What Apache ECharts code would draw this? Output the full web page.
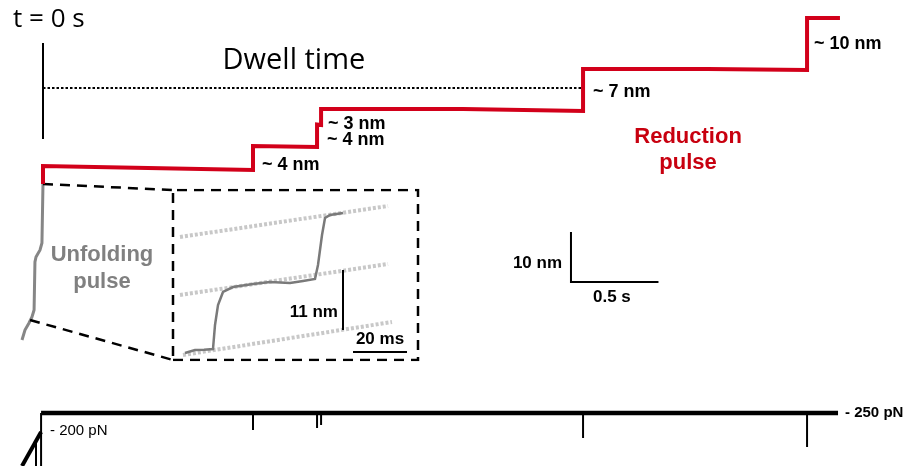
<!DOCTYPE html>
<html><head><meta charset="utf-8">
<script src="https://cdn.jsdelivr.net/npm/echarts@6/dist/echarts.min.js"></script>
<style>html,body{margin:0;padding:0;background:#fff}#c{width:911px;height:466px}</style>
</head><body><div id="c"></div>
<script>
// ---- Main extension trace: time (s) vs extension (nm) ----
const redTrace = [[0,-3.4],[0,0.2],[0.6,-0.2],[1.2,-0.6],[1.2,4.2],[1.566,4.0],[1.566,8.5],[1.589,8.4],[1.589,11.6],[2.4,11.6],[3.086,11.2],[3.086,19.6],[3.8,19.6],[4.366,19.4],[4.366,29.8],[4.554,29.8]];
const grayTrace = [[0,-3.2],[-0.006,-15.2],[-0.017,-16.6],[-0.04,-18],[-0.046,-19],[-0.051,-28.6],[-0.063,-30],[-0.08,-31.2],[-0.103,-32.6],[-0.12,-34.6]];
const dwellMarker = [[0,24.8],[0,5.6]];
const dwellLine = [[0,15.8],[3.086,15.8]];
const zoomTop = [[0,-3.4],[0.743,-4.6]];
const zoomBottom = [[-0.074,-30.6],[0.743,-38.6]];
const scaleBar = [[3.017,-13],[3.017,-23],[3.517,-23]];
// annotation anchors [t, nm, text]
const stepLabels = [[4.406,24.6,'~ 10 nm'],[3.143,15.0,'~ 7 nm'],[1.629,8.6,'~ 3 nm'],[1.623,5.4,'~ 4 nm'],[1.251,0.4,'~ 4 nm']];
const redLabel = [[3.686,3.4,'Reduction\npulse']];
const grayLabel = [[0.337,-20.3,'Unfolding\npulse']];
const titleLabels = [[-0.171,29.4,'t = 0 s']];
const dwellLabel = [[1.434,21.2,'Dwell time']];
const scaleLabelY = [[2.966,-19.2,'10 nm']];
const scaleLabelX = [[3.251,-26,'0.5 s']];

// ---- Force trace: time (s) vs force (pN) ----
const forceMain = [[-0.011,250],[4.543,250]];
const forceRampDiag = [[-0.12,102.8],[-0.011,197.2]];
const forceRampV1 = [[-0.04,175],[-0.04,102.8]];
const forceRampV2 = [[-0.011,250],[-0.011,102.8]];
const forceSpikes = [[1.2,202.8],[1.566,208.3],[1.589,216.7],[3.086,180.6],[4.366,155.6]];
const forceLabelR = [[4.583,250,'- 250 pN']];
const forceLabelL = [[0.04,200,'- 200 pN']];

// ---- Inset: time (ms) vs extension (nm) ----
const insetTrace = [[4.44,1.28],[8.15,1.83],[11.5,1.9],[14.81,2.02],[15.56,6.42],[16.67,10.08],[18.52,12.47],[22.22,13.38],[29.63,13.93],[35.93,14.3],[43.33,14.12],[48.15,14.48],[52.59,14.85],[53.7,17.42],[55.19,22.92],[56.3,26.03],[58.15,26.58],[62.96,26.95]];
const insetGuides = [[[2.59,22.55],[79.63,28.23]],[[2.59,11.92],[79.63,17.6]],[[3.7,0.92],[81.11,6.97]]];
const insetBox = [[0,0],[90.74,0],[90.74,31.17],[0,31.17],[0,0]];
const insetBarY = [[62.96,5.5],[62.96,16.5]];
const insetBarX = [[66.67,1.47],[86.67,1.47]];
const insetLabelY = [[61.1,8.8,'11 nm']];
const insetLabelX = [[76.67,3.85,'20 ms']];

const RED = '#d2001a', GRAY = '#868686';
const chart = echarts.init(document.getElementById('c'), null, {renderer:'canvas'});

function line(data, gi, color, width, type, z) {
  return {type:'line', xAxisIndex:gi, yAxisIndex:gi, data, symbol:'none', showSymbol:false,
    lineStyle:{color, width, type: type||'solid', cap:'butt', join:'miter'}, z: z||2, silent:true, animation:false};
}
function labels(data, gi, style) {
  return {type:'scatter', xAxisIndex:gi, yAxisIndex:gi, symbolSize:0.01, itemStyle:{color:'#fff', opacity:0},
    data: data.map(d=>({value:[d[0],d[1]], name:d[2]})), silent:true, animation:false, z:5,
    label: Object.assign({show:true, position:[0,0], formatter:'{b}', verticalAlign:'middle', opacity:1,
      textBorderWidth:0, textShadowBlur:0}, style)};
}
const boldTxt = {fontFamily:'Liberation Sans', fontWeight:'bold', color:'#000'};

const series = [
  line(grayTrace, 0, GRAY, 3),
  line(redTrace, 0, RED, 4, 'solid', 3),
  line(dwellMarker, 0, '#000', 2),
  line(dwellLine, 0, '#000', 2.2, [2.5,2]),
  line(zoomTop, 0, '#000', 2.5, [10,7]),
  line(zoomBottom, 0, '#000', 2.5, [10,7]),
  line(scaleBar, 0, '#000', 2),
  labels(stepLabels, 0, Object.assign({align:'left', fontSize:18}, boldTxt)),
  labels(redLabel, 0, {align:'center', fontSize:22, fontWeight:'bold', fontFamily:'Liberation Sans', color:'#c8000f', lineHeight:26}),
  labels(grayLabel, 0, {align:'center', fontSize:22, fontWeight:'bold', fontFamily:'Liberation Sans', color:'#808080', lineHeight:27}),
  labels(titleLabels, 0, {align:'left', fontSize:26, fontFamily:'Open Sans', color:'#000'}),
  labels(dwellLabel, 0, {align:'center', fontSize:29, fontFamily:'Open Sans', color:'#000'}),
  labels(scaleLabelY, 0, Object.assign({align:'right', fontSize:17}, boldTxt)),
  labels(scaleLabelX, 0, Object.assign({align:'center', fontSize:17}, boldTxt)),

  line(forceMain, 1, '#000', 4.5),
  line(forceRampDiag, 1, '#000', 4),
  line(forceRampV1, 1, '#000', 2),
  line(forceRampV2, 1, '#000', 2),
  ...forceSpikes.map(s => line([[s[0],250],[s[0],s[1]]], 1, '#000', 2)),
  labels(forceLabelR, 1, Object.assign({align:'left', fontSize:15}, boldTxt)),
  labels(forceLabelL, 1, {align:'left', fontSize:15, fontFamily:'Liberation Sans', color:'#000'}),

  line(insetBox, 2, '#000', 2.5, [10,7]),
  ...insetGuides.map(g => line(g, 2, '#c8c8c8', 4, [3,2])),
  line(insetTrace, 2, '#7a7a7a', 2.5, 'solid', 3),
  line(insetBarY, 2, '#000', 2),
  line(insetBarX, 2, '#000', 2),
  labels(insetLabelY, 2, Object.assign({align:'right', fontSize:17}, boldTxt)),
  labels(insetLabelX, 2, Object.assign({align:'center', fontSize:17}, boldTxt))
];

const hid = {show:false};
chart.setOption({
  backgroundColor:'#ffffff',
  animation:false,
  grid:[
    {left:0, top:0, width:911, height:466},
    {left:0, top:380, width:911, height:86},
    {left:173, top:190, width:245, height:170}
  ],
  xAxis:[
    Object.assign({type:'value', gridIndex:0, min:-43/175, max:868/175}, hid),
    Object.assign({type:'value', gridIndex:1, min:-43/175, max:868/175}, hid),
    Object.assign({type:'value', gridIndex:2, min:0, max:90.74}, hid)
  ],
  yAxis:[
    Object.assign({type:'value', gridIndex:0, min:-59.8, max:33.4}, hid),
    Object.assign({type:'value', gridIndex:1, min:102.78, max:341.67}, hid),
    Object.assign({type:'value', gridIndex:2, min:0, max:31.17}, hid)
  ],
  series
});
</script></body></html>
